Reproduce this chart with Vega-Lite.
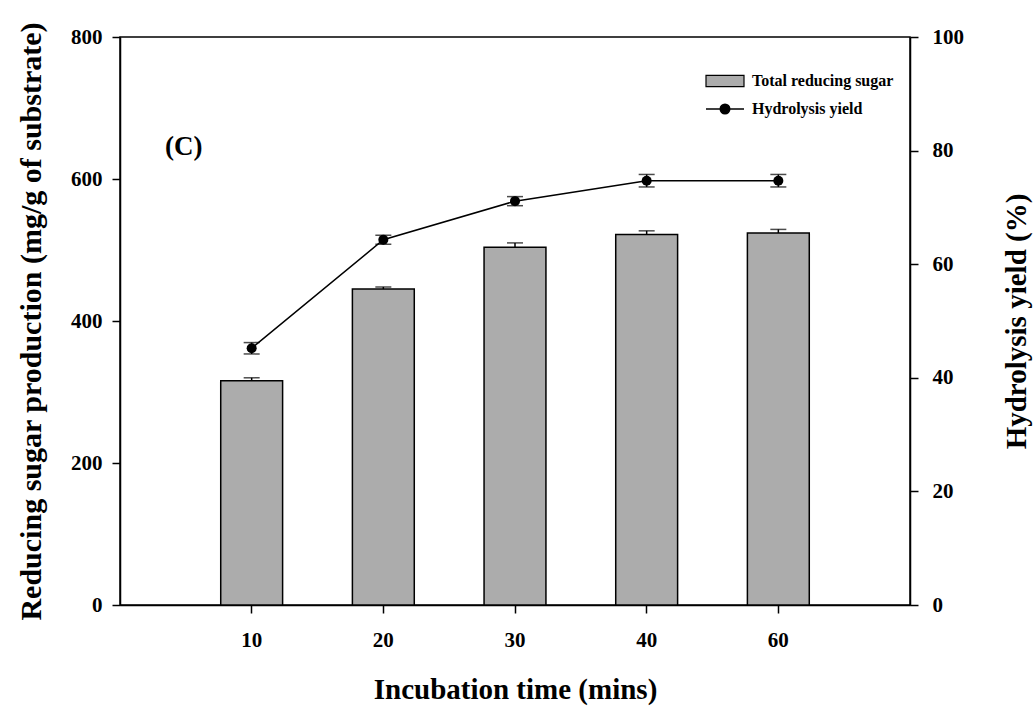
{
  "$schema": "https://vega.github.io/schema/vega-lite/v6.json",
  "width": 790,
  "height": 568,
  "autosize": {"type": "none"},
  "padding": {"left": 120, "top": 37, "right": 124, "bottom": 108},
  "background": "white",
  "config": {
    "font": "Liberation Serif",
    "view": {"stroke": "black", "strokeWidth": 1.5},
    "axis": {
      "labelFont": "Liberation Serif", "labelFontSize": 21, "labelFontWeight": "bold", "labelColor": "black",
      "titleFont": "Liberation Serif", "titleFontSize": 29, "titleFontWeight": "bold", "titleColor": "black",
      "domainColor": "black", "domainWidth": 1.5, "tickColor": "black", "tickWidth": 1.5, "tickSize": 8,
      "grid": false
    },
    "legend": {
      "labelFont": "Liberation Serif", "labelFontSize": 16, "labelFontWeight": "bold", "labelColor": "black",
      "labelOffset": 7, "labelLimit": 400
    }
  },
  "title": {
    "text": "(C)", "anchor": "start", "frame": "group", "offset": 0, "dx": 45, "dy": 152,
    "baseline": "middle", "fontSize": 27, "fontWeight": "bold", "font": "Liberation Serif", "color": "black"
  },
  "data": {
    "values": [
      {"time": "10", "sugar": 316, "sugar_hi": 320, "yield": 45.2, "yield_lo": 44.2, "yield_hi": 46.2},
      {"time": "20", "sugar": 445, "sugar_hi": 448, "yield": 64.3, "yield_lo": 63.5, "yield_hi": 65.1},
      {"time": "30", "sugar": 504, "sugar_hi": 510, "yield": 71.1, "yield_lo": 70.3, "yield_hi": 71.9},
      {"time": "40", "sugar": 522, "sugar_hi": 527, "yield": 74.7, "yield_lo": 73.6, "yield_hi": 75.8},
      {"time": "60", "sugar": 524, "sugar_hi": 529, "yield": 74.7, "yield_lo": 73.6, "yield_hi": 75.8}
    ]
  },
  "encoding": {
    "x": {
      "field": "time", "type": "ordinal", "sort": null,
      "scale": {"paddingInner": 0.53, "paddingOuter": 0.765},
      "axis": {"title": "Incubation time (mins)", "labelAngle": 0, "labelPadding": 16, "titlePadding": 25}
    }
  },
  "layer": [
    {
      "encoding": {
        "y": {
          "field": "sugar", "type": "quantitative",
          "scale": {"domain": [0, 800]},
          "axis": {"orient": "left", "title": "Reducing sugar production (mg/g of substrate)", "titleFontSize": 30, "values": [0, 200, 400, 600, 800], "labelPadding": 10, "titlePadding": 24}
        }
      },
      "layer": [
        {
          "mark": {"type": "bar", "stroke": "black", "strokeWidth": 1.5},
          "encoding": {
            "fill": {
              "datum": "Total reducing sugar",
              "scale": {"range": ["#acacac"]},
              "legend": {
                "title": null, "orient": "none", "legendX": 585, "legendY": 24,
                "symbolType": "M-1,-0.3H1V0.3H-1Z", "symbolSize": 1444,
                "symbolStrokeColor": "black", "symbolStrokeWidth": 1.2
              }
            }
          }
        },
        {
          "mark": {"type": "rule", "color": "black", "strokeWidth": 1.5},
          "encoding": {"y2": {"field": "sugar_hi"}}
        },
        {
          "mark": {"type": "tick", "color": "black", "thickness": 1.5, "size": 16},
          "encoding": {"y": {"field": "sugar_hi", "type": "quantitative"}}
        }
      ]
    },
    {
      "encoding": {
        "y": {
          "field": "yield", "type": "quantitative",
          "scale": {"domain": [0, 100]},
          "axis": {"orient": "right", "title": "Hydrolysis yield (%)", "values": [0, 20, 40, 60, 80, 100], "labelPadding": 14, "titlePadding": 68, "titleAngle": 270}
        }
      },
      "layer": [
        {
          "mark": {"type": "line", "strokeWidth": 1.5},
          "encoding": {
            "stroke": {
              "datum": "Hydrolysis yield",
              "scale": {"range": ["black"]},
              "legend": {
                "title": null, "orient": "none", "legendX": 585, "legendY": 52,
                "symbolType": "M-1,0H1M-0.25,0A0.25,0.25 0 1,1 0.25,0A0.25,0.25 0 1,1 -0.25,0Z",
                "symbolSize": 1444, "symbolStrokeWidth": 1.5,
                "symbolFillColor": "black", "symbolStrokeColor": "black"
              }
            }
          }
        },
        {
          "mark": {"type": "rule", "color": "black", "strokeWidth": 1.5},
          "encoding": {"y": {"field": "yield_lo", "type": "quantitative"}, "y2": {"field": "yield_hi"}}
        },
        {
          "mark": {"type": "tick", "color": "black", "thickness": 1.5, "size": 16},
          "encoding": {"y": {"field": "yield_lo", "type": "quantitative"}}
        },
        {
          "mark": {"type": "tick", "color": "black", "thickness": 1.5, "size": 16},
          "encoding": {"y": {"field": "yield_hi", "type": "quantitative"}}
        },
        {
          "mark": {"type": "point", "filled": true, "color": "black", "size": 100, "opacity": 1}
        }
      ]
    }
  ],
  "resolve": {"scale": {"y": "independent", "fill": "independent", "stroke": "independent"}}
}
